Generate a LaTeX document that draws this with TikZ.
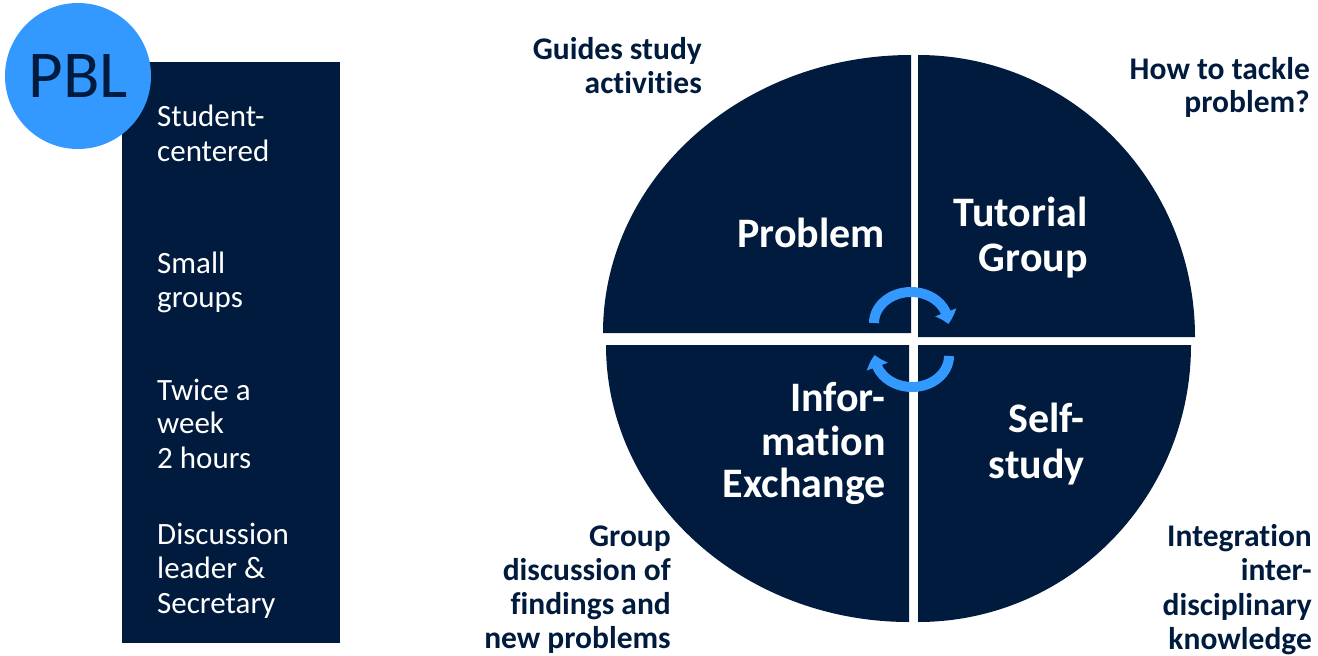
\documentclass[tikz,border=0pt]{standalone}
\usepackage{fontspec}
\setmainfont{Carlito}[Ligatures=NoCommon]
\usetikzlibrary{arrows.meta,bending}
\definecolor{navy}{HTML}{001B3D}
\definecolor{pblblue}{HTML}{3399FF}
\begin{document}
\begin{tikzpicture}[x=1pt,y=-1pt,
  outl/.style={font=\fontsize{31.5}{34}\selectfont\bfseries, text=navy, inner sep=0pt, anchor=base east},
  inl/.style={font=\fontsize{42}{46}\selectfont\bfseries, text=white, inner sep=0pt, anchor=base east},
  boxl/.style={font=\fontsize{31}{34}\selectfont, text=white, inner sep=0pt, anchor=base west},
  quad/.style={fill=navy},
  cyc/.style={draw=pblblue, line width=10pt, -{Triangle[width=22pt,length=12pt,bend]}}]
\useasboundingbox (0,0) rectangle (1318,656);

% left panel
\fill[navy] (122,62) rectangle (340,643);
\node[circle, fill=pblblue, minimum size=146pt, inner sep=0pt,
      font=\fontsize{67}{70}\selectfont, text=navy] (pbl) at (78,76) {PBL};

\node[boxl] (b1) at (157,126) {Student-};
\node[boxl] (b2) at (157,161) {centered};
\node[boxl] (b3) at (157,273) {Small};
\node[boxl] (b4) at (157,307) {groups};
\node[boxl] (b5) at (157,400) {Twice a};
\node[boxl] (b6) at (157,433) {week};
\node[boxl] (b7) at (157,468) {2 hours};
\node[boxl] (b8) at (157,544) {Discussion};
\node[boxl] (b9) at (157,578) {leader \&};
\node[boxl] (b10) at (157,613) {Secretary};

% quadrants
\fill[quad] (911,333) -- (603,333) arc[start angle=180, end angle=270, x radius=308, y radius=278] -- cycle;
\fill[quad] (918,337) -- (918,55) arc[start angle=270, end angle=360, x radius=277, y radius=282] -- cycle;
\fill[quad] (909,345) -- (909,622) arc[start angle=90, end angle=180, x radius=303, y radius=277] -- cycle;
\fill[quad] (918,345) -- (1191,345) arc[start angle=0, end angle=90, x radius=273, y radius=277] -- cycle;

% cycle arrows
\draw[cyc] (911,323) ++(180:37 and 31) arc[start angle=180, end angle=362, x radius=37, y radius=31];
\draw[cyc] (912,356) ++(0:37 and 31) arc[start angle=0, end angle=182, x radius=37, y radius=31];

% quadrant labels
\node[inl] (q1) at (885,247) {Problem};
\node[inl] (q2a) at (1088,226) {Tutorial};
\node[inl] (q2b) at (1088,271) {Group};
\node[inl] (q3a) at (886,411) {Infor-};
\node[inl] (q3b) at (886,455) {mation};
\node[inl] (q3c) at (886,497) {Exchange};
\node[inl] (q4a) at (1085,432) {Self-};
\node[inl] (q4b) at (1085,478) {study};

% outer labels
\node[outl] (o1a) at (702,59) {Guides study};
\node[outl] (o1b) at (702,93) {activities};
\node[outl] (o2a) at (1310,79) {How to tackle};
\node[outl] (o2b) at (1310,112) {problem?};
\node[outl] (o3a) at (671,546) {Group};
\node[outl] (o3b) at (671,580) {discussion of};
\node[outl] (o3c) at (671,614) {findings and};
\node[outl] (o3d) at (671,648) {new problems};
\node[outl] (o4a) at (1312,546) {Integration};
\node[outl] (o4b) at (1312,580) {inter-};
\node[outl] (o4c) at (1312,615) {disciplinary};
\node[outl] (o4d) at (1312,649) {knowledge};
\end{tikzpicture}
\end{document}
